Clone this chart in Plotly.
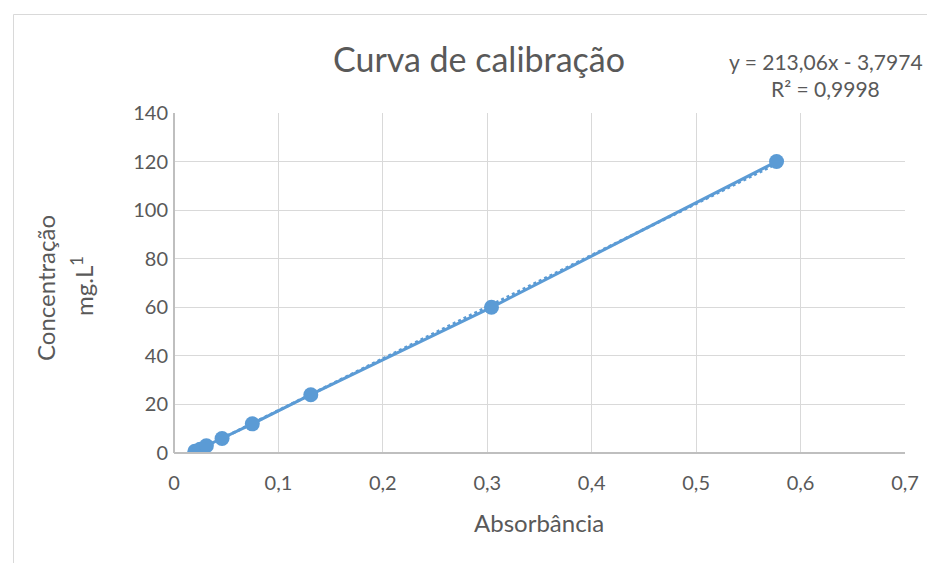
import plotly.graph_objects as go

absorbancia = [0.020, 0.025, 0.031, 0.046, 0.075, 0.131, 0.304, 0.577]
concentracao = [0.75, 1.5, 3, 6, 12, 24, 60, 120]
slope = 213.06
intercept = -3.7974
x_ticks = [0, 0.1, 0.2, 0.3, 0.4, 0.5, 0.6, 0.7]
y_ticks = [0, 20, 40, 60, 80, 100, 120, 140]

color = "#5b9bd5"
grey = "#595959"
font_family = "Lato, 'Open Sans', sans-serif"

trend_x = [min(absorbancia), max(absorbancia)]
trend_y = [slope * v + intercept for v in trend_x]

L, T, W, H = 166, 105, 731, 340

def px(x):
    return (x - 174) / W

def py(y):
    return (453 - y) / H

fig = go.Figure()
fig.add_trace(go.Scatter(x=trend_x, y=trend_y, mode="lines",
                         line=dict(color=color, width=3, dash="dot"),
                         showlegend=False, hoverinfo="skip"))
fig.add_trace(go.Scatter(x=absorbancia, y=concentracao, mode="lines+markers",
                         line=dict(color=color, width=3),
                         marker=dict(color=color, size=15),
                         showlegend=False))

fig.update_layout(
    width=935, height=563,
    margin=dict(l=L, r=935 - L - W, t=T, b=563 - T - H),
    paper_bgcolor="white", plot_bgcolor="white",
    separators=", ",
    font=dict(family=font_family, color=grey, size=20),
    title=dict(text="Curva de calibração", x=(479 - 8) / 935, xanchor="center",
               y=1 - 52 / 563, yanchor="middle",
               font=dict(size=34, color=grey, family=font_family)),
    xaxis=dict(range=[0, 0.7], tickvals=x_ticks, showgrid=True, gridcolor="#d9d9d9",
               gridwidth=1, zeroline=False, showline=False, ticks="",
               tickfont=dict(size=20, color=grey), ticklabelstandoff=16),
    yaxis=dict(range=[0, 140], tickvals=y_ticks, showgrid=True, gridcolor="#d9d9d9",
               gridwidth=1, zeroline=False, showline=False, ticks="",
               tickfont=dict(size=20, color=grey), ticklabelstandoff=5),
    shapes=[
        dict(type="line", xref="paper", yref="paper", x0=0, x1=0, y0=0, y1=1,
             line=dict(color="#bfbfbf", width=2)),
        dict(type="line", xref="paper", yref="paper", x0=0, x1=1, y0=0, y1=0,
             line=dict(color="#bfbfbf", width=2)),
        dict(type="rect", xref="paper", yref="paper", x0=px(13.5), x1=1.2,
             y0=-0.5, y1=py(14.5), line=dict(color="#d9d9d9", width=1)),
    ],
    annotations=[
        dict(text="y = 213,06x - 3,7974", xref="paper", yref="paper",
             x=px(826), y=py(61), showarrow=False,
             xanchor="center", yanchor="middle", font=dict(size=21, color=grey)),
        dict(text="R² = 0,9998", xref="paper", yref="paper",
             x=px(825), y=py(88), showarrow=False,
             xanchor="center", yanchor="middle", font=dict(size=21, color=grey)),
        dict(text="Absorbância", xref="paper", yref="paper",
             x=px(539), y=py(522), showarrow=False,
             xanchor="center", yanchor="middle", font=dict(size=24, color=grey)),
        dict(text="Concentração", xref="paper", yref="paper",
             x=px(45), y=py(288), showarrow=False, textangle=-90,
             xanchor="center", yanchor="middle", font=dict(size=24, color=grey)),
        dict(text="mg.L<sup>1</sup>", xref="paper", yref="paper",
             x=px(82), y=py(286), showarrow=False, textangle=-90,
             xanchor="center", yanchor="middle", font=dict(size=24, color=grey)),
    ],
)

fig.write_html("out.html")
